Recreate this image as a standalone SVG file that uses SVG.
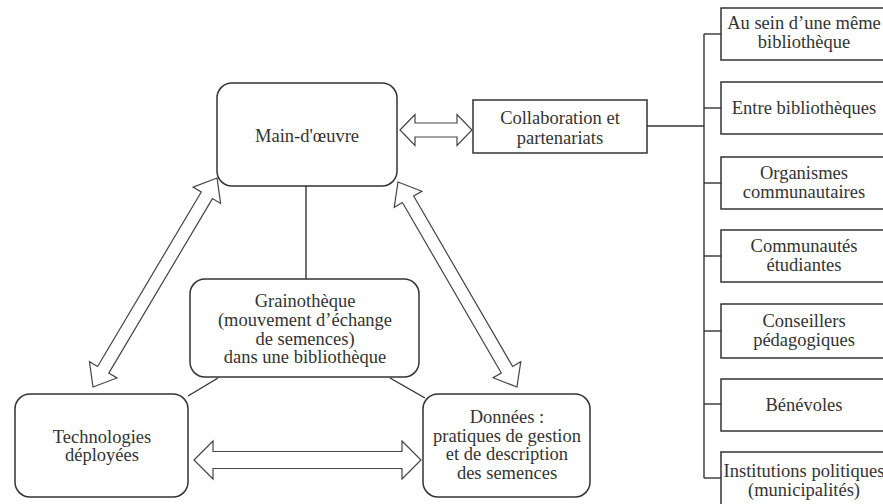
<svg xmlns="http://www.w3.org/2000/svg" width="883" height="504" viewBox="0 0 883 504">
<style>
.box{fill:#fff;stroke:#333;stroke-width:1.5}
.ln{fill:none;stroke:#333;stroke-width:1.4}
.arr{fill:#fff;stroke:#444;stroke-width:1.2;stroke-linejoin:miter}
</style>
<rect width="883" height="504" fill="#fff"/>
<g id="connectors">
<line class="ln" x1="306" y1="186" x2="306" y2="279"/>
<line class="ln" x1="218" y1="378" x2="188" y2="396"/>
<line class="ln" x1="390" y1="378" x2="425" y2="398"/>
<line class="ln" x1="647" y1="126" x2="704" y2="126"/>
<line class="ln" x1="704" y1="34" x2="704" y2="478"/>
<line class="ln" x1="704" y1="34" x2="721" y2="34"/>
<line class="ln" x1="704" y1="108" x2="721" y2="108"/>
<line class="ln" x1="704" y1="183" x2="721" y2="183"/>
<line class="ln" x1="704" y1="256" x2="721" y2="256"/>
<line class="ln" x1="704" y1="331" x2="721" y2="331"/>
<line class="ln" x1="704" y1="404" x2="721" y2="404"/>
<line class="ln" x1="704" y1="478" x2="721" y2="478"/>
<polygon class="arr" points="400,130 415,114.5 415,123 457,123 457,114.5 472,130 457,145.5 457,137 415,137 415,145.5"/>
<polygon class="arr" points="194,460 213,441 213,451.5 402,451.5 402,441 421,460 402,479 402,468.5 213,468.5 213,479"/>
<polygon class="arr" transform="translate(93,387) rotate(-59.3)" points="0,0 20,-16 20,-6.5 223,-6.5 223,-16 243,0 223,16 223,6.5 20,6.5 20,16"/>
<polygon class="arr" transform="translate(398,182) rotate(59.87)" points="0,0 20,-16 20,-6.5 217,-6.5 217,-16 237,0 217,16 217,6.5 20,6.5 20,16"/>
</g>
<g font-family="Liberation Serif, Times New Roman, serif" font-size="18.5" fill="#333" text-anchor="middle">
<g id="main">
<rect class="box" x="217" y="83" width="180" height="103" rx="15"/>
<text x="307" y="142">Main-d'œuvre</text>
</g>
<g id="collab">
<rect class="box" x="473" y="100" width="174" height="53"/>
<text x="560" y="124">Collaboration et</text>
<text x="560" y="143.5">partenariats</text>
</g>
<g id="grain">
<rect class="box" x="190" y="279" width="229" height="98" rx="15"/>
<text x="305" y="307">Grainothèque</text>
<text x="305" y="326">(mouvement d’échange</text>
<text x="305" y="344.5">de semences)</text>
<text x="305" y="363">dans une bibliothèque</text>
</g>
<g id="tech">
<rect class="box" x="15" y="394" width="173" height="103" rx="15"/>
<text x="102" y="442.5">Technologies</text>
<text x="102" y="461">déployées</text>
</g>
<g id="donnees">
<rect class="box" x="423" y="394" width="167" height="103" rx="15"/>
<text x="507" y="423">Données :</text>
<text x="507" y="441.5">pratiques de gestion</text>
<text x="507" y="460">et de description</text>
<text x="507" y="478.5">des semences</text>
</g>
<g id="r1">
<rect class="box" x="721" y="8" width="166" height="52"/>
<text x="804" y="29">Au sein d’une même</text>
<text x="804" y="47.5">bibliothèque</text>
</g>
<g id="r2">
<rect class="box" x="721" y="82" width="166" height="52"/>
<text x="804" y="113.5">Entre bibliothèques</text>
</g>
<g id="r3">
<rect class="box" x="721" y="157" width="166" height="52"/>
<text x="804" y="179">Organismes</text>
<text x="804" y="197.5">communautaires</text>
</g>
<g id="r4">
<rect class="box" x="721" y="230" width="166" height="52"/>
<text x="804" y="252">Communautés</text>
<text x="804" y="270.5">étudiantes</text>
</g>
<g id="r5">
<rect class="box" x="721" y="304" width="166" height="54"/>
<text x="804" y="327">Conseillers</text>
<text x="804" y="345.5">pédagogiques</text>
</g>
<g id="r6">
<rect class="box" x="721" y="379" width="166" height="52"/>
<text x="804" y="410.5">Bénévoles</text>
</g>
<g id="r7">
<rect class="box" x="721" y="452" width="166" height="56"/>
<text x="804" y="477">Institutions politiques</text>
<text x="804" y="495.5">(municipalités)</text>
</g>
</g>
</svg>
